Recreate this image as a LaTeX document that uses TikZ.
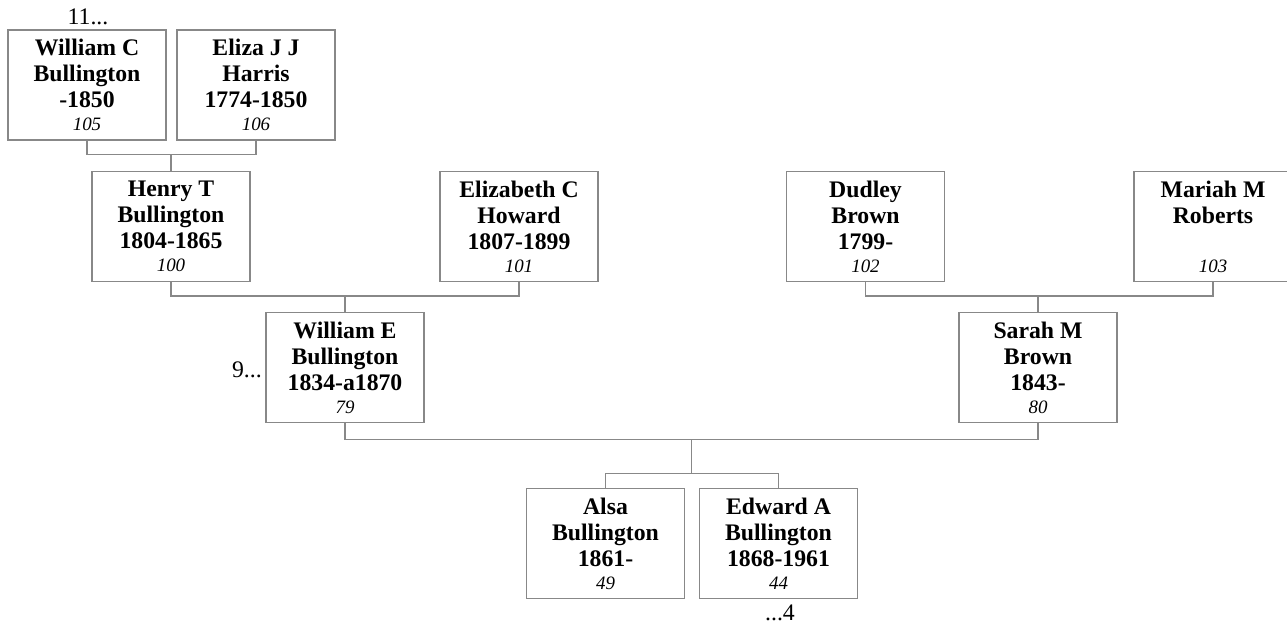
\documentclass[tikz,border=0pt]{standalone}
\usepackage{fontspec}
\setmainfont{Liberation Serif}
\usetikzlibrary{calc}
\definecolor{boxgray}{RGB}{136,136,136}
\newcommand{\pid}[1]{\\[-2.25pt]{\mdseries\itshape\fontsize{14.2}{19.5}\selectfont #1}}
\begin{document}
\begin{tikzpicture}[x=0.75pt,y=-0.75pt,
    person/.style={draw=boxgray,line width=0.9pt,minimum width=118.5pt,minimum height=82.5pt,
        inner sep=0pt,align=center,font=\bfseries\fontsize{17.8}{19.5}\selectfont},
    more/.style={inner sep=0pt,font=\fontsize{17.8}{19.5}\selectfont},
    link/.style={draw=boxgray,line width=0.9pt}]
    \clip (0,0) rectangle (1287,624);
    \node[person] (wc) at (87,85) {William C\\Bullington\\-1850\pid{105}};
    \node[person] (ej) at (256,85) {Eliza J J\\Harris\\1774-1850\pid{106}};
    \node[person] (ht) at (171,226.5) {Henry T\\Bullington\\1804-1865\pid{100}};
    \node[person] (ec) at (519,226.5) {Elizabeth C\\Howard\\1807-1899\pid{101}};
    \node[person] (db) at (865.5,226.5) {Dudley\\Brown\\1799-\pid{102}};
    \node[person] (mr) at (1213,226.5) {Mariah M\\Roberts\\\mbox{}\pid{103}};
    \node[person] (we) at (345,367.5) {William E\\Bullington\\1834-a1870\pid{79}};
    \node[person] (sm) at (1038,367.5) {Sarah M\\Brown\\1843-\pid{80}};
    \node[person] (ab) at (605.5,543.5) {Alsa\\Bullington\\1861-\pid{49}};
    \node[person] (ea) at (778.5,543.5) {Edward A\\Bullington\\1868-1961\pid{44}};
    \node[more,anchor=base] (more11) at (88,25) {11...};
    \node[more,anchor=base east] (more9) at (262,377) {9...};
    \node[more,anchor=base] (more4) at (780,620) {...4};
    \coordinate (f1) at ($(ht.north)+(0,-16)$);
    \draw[link] (wc.south) |- (f1) -| (ej.south);
    \draw[link] (f1) -- (ht.north);
    \coordinate (f2) at ($(we.north)+(0,-16)$);
    \draw[link] (ht.south) |- (f2) -| (ec.south);
    \draw[link] (f2) -- (we.north);
    \coordinate (f3) at ($(sm.north)+(0,-16)$);
    \draw[link] (db.south) |- (f3) -| (mr.south);
    \draw[link] (f3) -- (sm.north);
    \coordinate (f4) at ($(we.south)!0.5!(sm.south)+(0,16)$);
    \draw[link] (we.south) |- (f4) -| (sm.south);
    \coordinate (f5) at ($(f4)+(0,34)$);
    \draw[link] (f4) -- (f5);
    \draw[link] (ab.north) |- (f5) -| (ea.north);
\end{tikzpicture}
\end{document}
